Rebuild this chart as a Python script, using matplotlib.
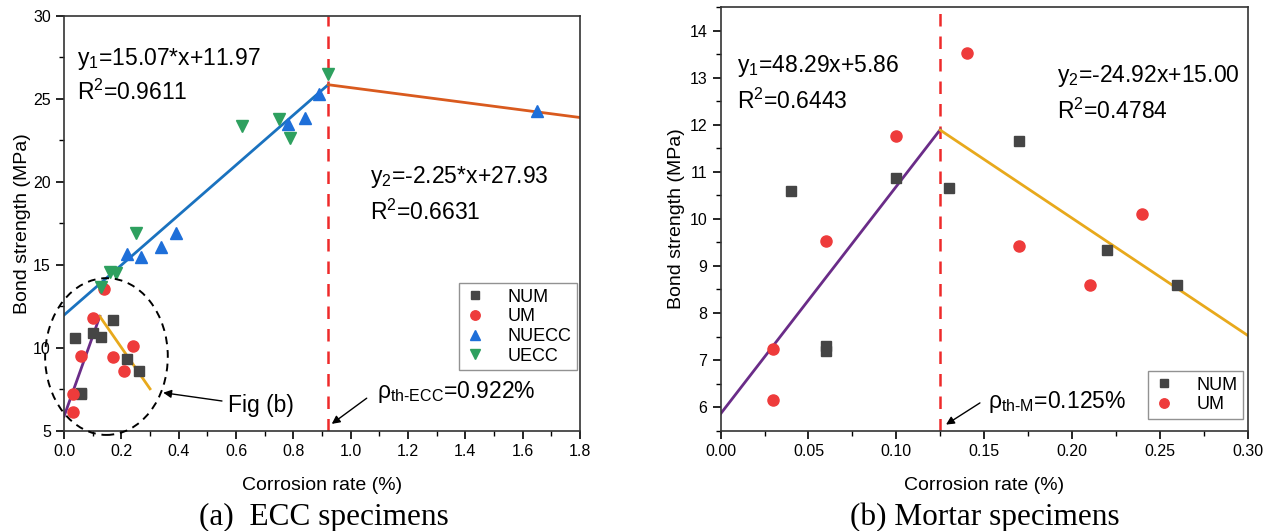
"""Bond strength vs. corrosion rate for ECC and mortar specimens, with bilinear fits."""
import matplotlib.pyplot as plt
import numpy as np
from matplotlib.patches import Ellipse
from matplotlib.ticker import MultipleLocator

# mortar specimens (shared by both panels)
num_x = [0.04, 0.06, 0.06, 0.10, 0.13, 0.17, 0.22, 0.26]
num_y = [10.60, 7.30, 7.19, 10.87, 10.66, 11.66, 9.34, 8.60]
um_x = [0.03, 0.03, 0.06, 0.10, 0.14, 0.17, 0.21, 0.24]
um_y = [7.24, 6.15, 9.53, 11.77, 13.52, 9.42, 8.60, 10.10]

# ECC specimens
nuecc_x = [0.22, 0.27, 0.34, 0.39, 0.78, 0.84, 0.89, 1.65]
nuecc_y = [15.68, 15.49, 16.09, 16.94, 23.47, 23.83, 25.28, 24.30]
uecc_x = [0.13, 0.16, 0.18, 0.25, 0.62, 0.75, 0.79, 0.922]
uecc_y = [13.68, 14.59, 14.49, 16.90, 23.37, 23.79, 22.67, 26.50]

# bilinear fits: (slope, intercept, x_start, x_end)
ecc_fit1 = (15.07, 11.97, 0.0, 0.922)
ecc_fit2 = (-2.25, 27.93, 0.922, 1.8)
m_fit1 = (48.29, 5.86, 0.0, 0.125)
m_fit2 = (-24.92, 15.00, 0.125, 0.30)
rho_ecc = 0.922
rho_m = 0.125

C_NUM, C_UM, C_NUECC, C_UECC = "#454545", "#EE3B3B", "#1E6FD9", "#2EA05F"
C_BLUE, C_ORANGE, C_PURPLE, C_GOLD = "#1A72BF", "#D95A1E", "#6A2C88", "#E8A91C"

plt.rcParams.update({
    "font.family": ["Liberation Sans", "DejaVu Sans"],
    "mathtext.fontset": "custom",
    "mathtext.rm": "Liberation Sans",
    "mathtext.it": "Liberation Sans:italic",
    "axes.linewidth": 1.2,
    "axes.edgecolor": "#333333",
    "xtick.labelsize": 11.5, "ytick.labelsize": 11.5,
    "xtick.direction": "out", "ytick.direction": "out",
    "xtick.major.size": 6, "ytick.major.size": 6,
    "xtick.minor.size": 3.5, "ytick.minor.size": 3.5,
    "xtick.major.width": 1.2, "ytick.major.width": 1.2,
    "xtick.minor.width": 1.0, "ytick.minor.width": 1.0,
})


def fit_line(ax, fit, color):
    k, b, x0, x1 = fit
    xs = np.array([x0, x1])
    ax.plot(xs, k * xs + b, color=color, lw=2.0, zorder=2)


def scatter_mortar(ax):
    ax.plot(num_x, num_y, "s", ms=7, color=C_NUM, ls="none", label="NUM", zorder=3)
    ax.plot(um_x, um_y, "o", ms=8, color=C_UM, ls="none", label="UM", zorder=3)


def style(ax, ypad):
    ax.set_xlabel("Corrosion rate (%)", fontsize=14, labelpad=13)
    ax.set_ylabel("Bond strength (MPa)", fontsize=14, labelpad=ypad)
    ax.tick_params(which="both", top=False, right=False)


def arrow(ax, text, tip, tail, xy_text):
    ax.annotate("", xy=tip, xytext=tail,
                arrowprops=dict(arrowstyle="-|>", color="black", lw=1.0,
                                mutation_scale=12, shrinkA=0, shrinkB=0))
    ax.text(*xy_text, text, fontsize=16.5, va="baseline", ha="left")


fig = plt.figure(figsize=(12.73, 5.31), dpi=100)
ax1 = fig.add_axes([0.0503, 0.1889, 0.4053, 0.7810])
ax2 = fig.add_axes([0.5661, 0.1889, 0.4140, 0.7979])

# (a) ECC specimens
scatter_mortar(ax1)
ax1.plot(nuecc_x, nuecc_y, "^", ms=8, color=C_NUECC, ls="none", label="NUECC", zorder=3)
ax1.plot(uecc_x, uecc_y, "v", ms=8, color=C_UECC, ls="none", label="UECC", zorder=3)
fit_line(ax1, ecc_fit1, C_BLUE)
fit_line(ax1, ecc_fit2, C_ORANGE)
fit_line(ax1, m_fit1, C_PURPLE)
fit_line(ax1, m_fit2, C_GOLD)
ax1.axvline(rho_ecc, color="#EE2A2A", lw=1.8, ls=(0, (5, 4)), zorder=1)
ax1.add_patch(Ellipse((0.148, 9.47), 0.428, 9.45, fill=False, ls=(0, (4, 3)),
                      lw=1.4, color="black", clip_on=False, zorder=4))
ax1.set_xlim(0, 1.8)
ax1.set_ylim(5, 30)
ax1.xaxis.set_major_locator(MultipleLocator(0.2))
ax1.xaxis.set_minor_locator(MultipleLocator(0.1))
ax1.yaxis.set_major_locator(MultipleLocator(5))
ax1.yaxis.set_minor_locator(MultipleLocator(2.5))
ax1.xaxis.set_major_formatter(lambda v, p: f"{v:.1f}")
style(ax1, 1.5)
ax1.text(0.044, 27.05, r"y$_1$=15.07*x+11.97", fontsize=16.5)
ax1.text(0.044, 24.94, r"R$^2$=0.9611", fontsize=16.5)
ax1.text(1.067, 19.93, r"y$_2$=-2.25*x+27.93", fontsize=16.5)
ax1.text(1.067, 17.70, r"R$^2$=0.6631", fontsize=16.5)
arrow(ax1, r"ρ$_{\mathrm{th}\text{-}\mathrm{ECC}}$=0.922%", (0.934, 5.41), (1.056, 6.96), (1.091, 6.95))
arrow(ax1, "Fig (b)", (0.346, 7.29), (0.551, 6.79), (0.572, 6.15))
ax1.legend(loc="lower right", bbox_to_anchor=(0.994, 0.146), borderaxespad=0,
           fontsize=13, frameon=True, fancybox=False, edgecolor="#777777",
           handletextpad=1.2, handlelength=1.2, labelspacing=0.15, borderpad=0.3,
           markerscale=0.85).get_frame().set_linewidth(1.0)

# (b) mortar specimens
scatter_mortar(ax2)
fit_line(ax2, m_fit1, C_PURPLE)
fit_line(ax2, m_fit2, C_GOLD)
ax2.axvline(rho_m, color="#EE2A2A", lw=1.8, ls=(0, (5, 4)), zorder=1)
ax2.set_xlim(0, 0.30)
ax2.set_ylim(5.5, 14.5)
ax2.xaxis.set_major_locator(MultipleLocator(0.05))
ax2.xaxis.set_minor_locator(MultipleLocator(0.025))
ax2.yaxis.set_major_locator(MultipleLocator(1))
ax2.yaxis.set_minor_locator(MultipleLocator(0.5))
ax2.xaxis.set_major_formatter(lambda v, p: f"{v:.2f}")
style(ax2, 3.5)
ax2.text(0.0091, 13.12, r"y$_1$=48.29x+5.86", fontsize=16.5)
ax2.text(0.0091, 12.34, r"R$^2$=0.6443", fontsize=16.5)
ax2.text(0.1916, 12.90, r"y$_2$=-24.92x+15.00", fontsize=16.5)
ax2.text(0.1916, 12.13, r"R$^2$=0.4784", fontsize=16.5)
arrow(ax2, r"ρ$_{\mathrm{th}\text{-}\mathrm{M}}$=0.125%", (0.1283, 5.63), (0.1476, 6.09), (0.1523, 5.98))
ax2.legend(loc="lower right", bbox_to_anchor=(0.991, 0.028), borderaxespad=0,
           fontsize=13, frameon=True, fancybox=False, edgecolor="#777777",
           handletextpad=1.2, handlelength=1.2, labelspacing=0.15, borderpad=0.3,
           markerscale=0.85).get_frame().set_linewidth(1.0)

fig.text(0.2547, 0.012, "(a)  ECC specimens", family="Liberation Serif", fontsize=22.5, ha="center")
fig.text(0.7735, 0.012, "(b) Mortar specimens", family="Liberation Serif", fontsize=22.5, ha="center")

fig.savefig("out.png", dpi=100)
